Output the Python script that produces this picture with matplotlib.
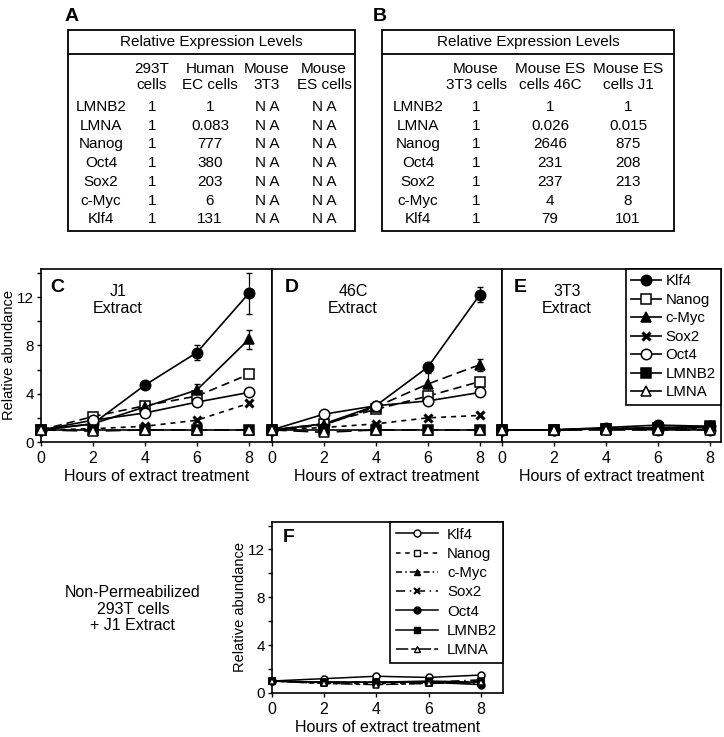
import matplotlib
matplotlib.use("Agg")
import matplotlib.pyplot as plt
from matplotlib.lines import Line2D
from matplotlib.patches import Rectangle

plt.rcParams['font.family'] = ['Liberation Sans', 'DejaVu Sans']

# ---- donnees des tableaux
genes = ["LMNB2", "LMNA", "Nanog", "Oct4", "Sox2", "c-Myc", "Klf4"]
colsA = ["293T\ncells", "Human\nEC cells", "Mouse\n3T3", "Mouse\nES cells"]
tabA = [["1", "1", "N A", "N A"],
        ["1", "0.083", "N A", "N A"],
        ["1", "777", "N A", "N A"],
        ["1", "380", "N A", "N A"],
        ["1", "203", "N A", "N A"],
        ["1", "6", "N A", "N A"],
        ["1", "131", "N A", "N A"]]
colsB = ["Mouse\n3T3 cells", "Mouse ES\ncells 46C", "Mouse ES\ncells J1"]
tabB = [["1", "1", "1"],
        ["1", "0.026", "0.015"],
        ["1", "2646", "875"],
        ["1", "231", "208"],
        ["1", "237", "213"],
        ["1", "4", "8"],
        ["1", "79", "101"]]

# ---- donnees des courbes
heures = [0, 2, 4, 6, 8]
series = ["Klf4", "Nanog", "c-Myc", "Sox2", "Oct4", "LMNB2", "LMNA"]

j1 = {"Klf4": [1, 1.5, 4.7, 7.4, 12.3],
      "Nanog": [1, 2.1, 3.0, 3.8, 5.6],
      "c-Myc": [1, 1.5, 2.9, 4.3, 8.5],
      "Sox2": [1, 1.1, 1.3, 1.8, 3.2],
      "Oct4": [1, 1.8, 2.4, 3.3, 4.1],
      "LMNB2": [1, 1.0, 1.0, 1.0, 1.0],
      "LMNA": [1, 0.9, 1.0, 1.0, 1.0]}
j1_err = {"Klf4": [0, 0, 0.2, 0.6, 1.7], "c-Myc": [0, 0, 0, 0.5, 0.8]}

c46 = {"Klf4": [1, 1.5, 3.0, 6.2, 12.2],
       "Nanog": [1, 1.5, 2.7, 3.8, 5.0],
       "c-Myc": [1, 1.4, 2.9, 4.8, 6.4],
       "Sox2": [1, 1.2, 1.5, 2.0, 2.2],
       "Oct4": [1, 2.3, 3.0, 3.4, 4.1],
       "LMNB2": [1, 1.0, 1.0, 1.0, 1.0],
       "LMNA": [1, 0.8, 1.0, 1.0, 1.0]}
c46_err = {"Klf4": [0, 0, 0, 0.4, 0.6], "c-Myc": [0, 0, 0, 0.9, 0.5],
           "Oct4": [0, 0, 0.3, 0, 0]}

t3 = {"Klf4": [1, 1.0, 1.2, 1.4, 1.3],
      "Nanog": [1, 1.0, 1.1, 1.2, 1.2],
      "c-Myc": [1, 1.0, 1.1, 1.1, 1.2],
      "Sox2": [1, 1.0, 1.1, 1.1, 1.1],
      "Oct4": [1, 1.0, 1.1, 1.0, 1.0],
      "LMNB2": [1, 1.0, 1.1, 1.2, 1.3],
      "LMNA": [1, 1.0, 1.0, 1.0, 1.0]}

nonperm = {"Klf4": [1, 1.2, 1.4, 1.3, 1.5],
           "Nanog": [1, 0.8, 0.8, 0.8, 1.0],
           "c-Myc": [1, 0.9, 0.9, 0.9, 0.8],
           "Sox2": [1, 0.9, 0.9, 0.9, 1.1],
           "Oct4": [1, 0.9, 0.9, 0.9, 0.7],
           "LMNB2": [1, 0.9, 0.9, 1.0, 0.9],
           "LMNA": [1, 0.8, 0.7, 0.8, 0.9]}

# styles: marqueur, remplissage, trait
style = {"Klf4": ('o', 'k', '-'),
         "Nanog": ('s', 'w', (0, (5, 3))),
         "c-Myc": ('^', 'k', '-'),
         "Sox2": ('x', 'k', (0, (3, 3))),
         "Oct4": ('o', 'w', '-'),
         "LMNB2": ('s', 'k', '-'),
         "LMNA": ('^', 'w', (0, (9, 4)))}
style46 = dict(style)
style46["c-Myc"] = ('^', 'k', (0, (6, 3)))

styleF = {"Klf4": ('o', 'w', '-'),
          "Nanog": ('s', 'w', (0, (3, 3))),
          "c-Myc": ('^', 'k', (0, (4, 2, 1, 2))),
          "Sox2": ('x', 'k', (0, (6, 3, 1, 3))),
          "Oct4": ('o', 'k', '-'),
          "LMNB2": ('s', 'k', '-'),
          "LMNA": ('^', 'w', (0, (8, 2, 3, 2)))}

W, H = 724, 737
fig = plt.figure(figsize=(7.24, 7.37), dpi=100)

# fond en pixels pour les tableaux
bg = fig.add_axes([0, 0, 1, 1])
bg.set_xlim(0, W)
bg.set_ylim(H, 0)
bg.axis('off')

def tableau(x0, x1, lab_x, col_x, cols, tab, lettre, lx):
    bg.add_patch(Rectangle((x0, 30), x1 - x0, 201, fill=False, lw=1.3, ec='k'))
    bg.plot([x0, x1], [54, 54], color='k', lw=1.3)
    bg.text((x0 + x1) / 2, 42, "Relative Expression Levels", ha='center', va='center', fontsize=11)
    bg.text(lx, 16, lettre, ha='center', va='center', fontsize=14, fontweight='bold')
    for cx, c in zip(col_x, cols):
        bg.text(cx, 77, c, ha='center', va='center', fontsize=11, linespacing=1.12)
    for i, g in enumerate(genes):
        y = 107 + i * 18.7
        bg.text(lab_x, y, g, ha='center', va='center', fontsize=11)
        for cx, v in zip(col_x, tab[i]):
            bg.text(cx, y, v, ha='center', va='center', fontsize=11)

tableau(68, 355, 101, [152, 210, 267, 324], colsA, tabA, "A", 72)
tableau(382, 674, 418, [476, 550, 628], colsB, tabB, "B", 380)

def axe(left, right, top, bottom):
    return fig.add_axes([left / W, 1 - bottom / H, (right - left) / W, (bottom - top) / H])

def dessine(ax, data, sty, err=None, ms=7.5, lw=1.2):
    for s in series:
        mk, fc, ls = sty[s]
        e = err.get(s) if err else None
        if e is not None:
            ax.errorbar(heures, data[s], yerr=e, fmt='none', ecolor='k', elinewidth=0.9, capsize=2, zorder=2)
        mew = 2.2 if mk == 'x' else 1.1
        ax.plot(heures, data[s], marker=mk, mfc=fc, mec='k', color='k', ls=ls,
                lw=lw, ms=ms if mk != 'x' else ms - 1.5, mew=mew, clip_on=False, zorder=3)

def habille(ax, xmax, ylab=True):
    ax.set_xlim(0, xmax)
    ax.set_ylim(0, 14.32)
    ax.set_xticks(heures)
    ax.tick_params(direction='out', length=3, width=1, labelsize=11.5)
    ax.tick_params(axis='y', pad=2, labelsize=11)
    for sp in ax.spines.values():
        sp.set_linewidth(1.2)
    if ylab:
        ax.set_yticks(range(0, 15, 2))
        ax.set_yticklabels([str(v) if v % 4 == 0 else '' for v in range(0, 15, 2)])
        ax.set_ylabel("Relative abundance", fontsize=10.5)
        ax.yaxis.set_label_coords(-0.108, 0.5)
    else:
        ax.set_yticks([])
    ax.set_xlabel("Hours of extract treatment", fontsize=11.5, labelpad=2)

axC = axe(40.7, 271.7, 269, 442)
dessine(axC, j1, style, j1_err)
habille(axC, 8.88)
axC.text(0.07, 0.895, "C", transform=axC.transAxes, fontsize=14, fontweight='bold', ha='center', va='center')
axC.text(0.335, 0.82, "J1\nExtract", transform=axC.transAxes, fontsize=11.5, ha='center', va='center')

axD = axe(271.7, 502, 269, 442)
dessine(axD, c46, style46, c46_err)
habille(axD, 8.85, ylab=False)
axD.text(0.088, 0.895, "D", transform=axD.transAxes, fontsize=14, fontweight='bold', ha='center', va='center')
axD.text(0.353, 0.82, "46C\nExtract", transform=axD.transAxes, fontsize=11.5, ha='center', va='center')

axE = axe(502, 721, 269, 442)
dessine(axE, t3, style)
habille(axE, 8.42, ylab=False)
axE.text(0.082, 0.895, "E", transform=axE.transAxes, fontsize=14, fontweight='bold', ha='center', va='center')
axE.text(0.297, 0.82, "3T3\nExtract", transform=axE.transAxes, fontsize=11.5, ha='center', va='center')

poignees = []
for s in series:
    mk, fc, ls = style[s]
    poignees.append(Line2D([], [], marker=mk, mfc=fc, mec='k', color='k', ls='-', lw=1.2,
                           ms=7.5 if mk != 'x' else 6, mew=2.2 if mk == 'x' else 1.1))
legE = axE.legend(poignees, series, loc='upper right', fontsize=10.8, frameon=True, fancybox=False,
                  edgecolor='k', framealpha=1, borderaxespad=0, handlelength=2.0, handletextpad=0.3,
                  labelspacing=0.3, borderpad=0.35)
legE.get_frame().set_linewidth(1.2)

axF = axe(271.7, 503, 521.7, 693)
dessine(axF, nonperm, styleF, ms=5, lw=1.1)
habille(axF, 8.85)
axF.text(0.075, 0.906, "F", transform=axF.transAxes, fontsize=14, fontweight='bold', ha='center', va='center')
poigneesF = []
for s in series:
    mk, fc, ls = styleF[s]
    poigneesF.append(Line2D([], [], marker=mk, mfc=fc, mec='k', color='k', ls=ls, lw=1.1,
                            ms=5 if mk != 'x' else 4.5, mew=1.5 if mk == 'x' else 1.0))
legF = axF.legend(poigneesF, series, loc='upper right', fontsize=10.8, frameon=True, fancybox=False,
                  edgecolor='k', framealpha=1, borderaxespad=0, handlelength=2.8, handletextpad=0.6,
                  labelspacing=0.35, borderpad=0.4)
legF.get_frame().set_linewidth(1.2)

bg.text(133, 609, "Non-Permeabilized\n293T cells\n+ J1 Extract", ha='center', va='center',
        fontsize=11.5, linespacing=1.15)

fig.savefig("out.png", dpi=100)
